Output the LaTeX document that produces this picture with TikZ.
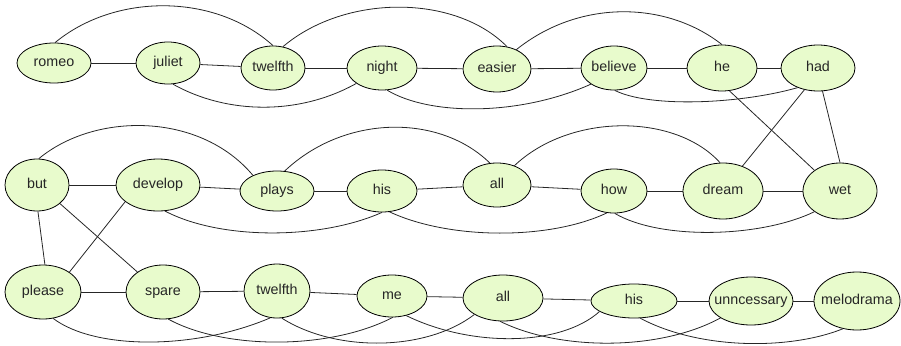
\documentclass[tikz,border=0pt]{standalone}
\usepackage{fontspec}
\setmainfont{Liberation Sans}
\usetikzlibrary{shapes.geometric}
\definecolor{nodefill}{HTML}{E8FBCC}
\tikzset{
  wnode/.style={ellipse, draw=black, line width=0.8pt, fill=nodefill, inner sep=0pt},
  wtext/.style={inner sep=0pt, font=\fontsize{14.3}{17}\selectfont, text=black!85,
    text height=10pt, text depth=3pt},
  link/.style={draw=black!85, line width=0.8pt},
}
\newcommand{\wn}[6]{\node[wnode, minimum width=#4pt, minimum height=#5pt] (#1) at (#2,#3) {};
  \node[wtext] (#1-t) at (#1.center) {#6};}
\begin{document}
\begin{tikzpicture}[x=1pt,y=-1pt]
\useasboundingbox (0,0) rectangle (901,345);
% row 1
\wn{romeo}{54}{63}{74}{40}{romeo}
\wn{juliet}{168}{63}{64}{42}{juliet}
\wn{twelfthA}{273}{68}{64}{44}{twelfth}
\wn{night}{382}{68}{70}{44}{night}
\wn{easier}{497}{69}{68}{46}{easier}
\wn{believe}{614}{68}{66}{44}{believe}
\wn{he}{722}{68}{70}{46}{he}
\wn{had}{818}{68}{74}{46}{had}
% row 2
\wn{but}{37}{185}{64}{52}{but}
\wn{develop}{158}{185}{84}{52}{develop}
\wn{plays}{277}{191}{74}{40}{plays}
\wn{hisA}{382}{191}{70}{42}{his}
\wn{allA}{497}{185}{68}{44}{all}
\wn{how}{614}{191}{66}{44}{how}
\wn{dream}{723}{191}{80}{56}{dream}
\wn{wet}{840}{191}{74}{56}{wet}
% row 3
\wn{please}{43}{292}{76}{54}{please}
\wn{spare}{163}{292}{74}{54}{spare}
\wn{twelfthB}{277}{291}{66}{54}{twelfth}
\wn{me}{392}{296}{70}{42}{me}
\wn{allB}{503}{298}{80}{46}{all}
\wn{hisB}{634}{301}{86}{34}{his}
\wn{unnc}{751}{301}{84}{48}{unncessary}
\wn{melo}{857}{301}{86}{58}{melodrama}

% row 1 straight
\draw[link] (romeo) -- (juliet);
\draw[link] (juliet) -- (twelfthA);
\draw[link] (twelfthA) -- (night);
\draw[link] (night) -- (easier);
\draw[link] (easier) -- (believe);
\draw[link] (believe) -- (he);
\draw[link] (he) -- (had);
% row 1 curves
\draw[link] (romeo.87) .. controls (115,-7) and (215,-7) .. (twelfthA.90);
\draw[link] (twelfthA.65) .. controls (345,-6) and (455,-6) .. (easier.66);
\draw[link] (easier.45) .. controls (578,0) and (665,0) .. (he.90);
\draw[link] (juliet.-77) .. controls (228,115) and (300,115) .. (night.211);
\draw[link] (night.-77) .. controls (430,116) and (520,116) .. (believe.-145);
\draw[link] (believe.-88) .. controls (650,108) and (740,104) .. (had.-136);
% row 1 - row 2
\draw[link] (he.-72) -- (wet.141);
\draw[link] (had.-122) -- (dream.52);
\draw[link] (had.-79) -- (wet.90);
% row 2 straight
\draw[link] (but) -- (develop);
\draw[link] (develop) -- (plays);
\draw[link] (plays) -- (hisA);
\draw[link] (hisA) -- (allA);
\draw[link] (allA) -- (how);
\draw[link] (how) -- (dream);
\draw[link] (dream) -- (wet);
% row 2 curves
\draw[link] (but.86) .. controls (95,112) and (200,112) .. (plays.147);
\draw[link] (plays.69) .. controls (345,114) and (440,114) .. (allA.108);
\draw[link] (allA.48) .. controls (570,113) and (675,113) .. (dream.96);
\draw[link] (develop.-75) .. controls (220,240) and (320,240) .. (hisA.-90);
\draw[link] (hisA.-70) .. controls (450,240) and (550,240) .. (how.-108);
\draw[link] (how.-88) .. controls (660,240) and (760,238) .. (wet.-141);
% row 2 - row 3
\draw[link] (but.-88) -- (please.86);
\draw[link] (but.-39) -- (spare.142);
\draw[link] (develop.-153) -- (please.37);
% row 3 straight
\draw[link] (please) -- (spare);
\draw[link] (spare) -- (twelfthB);
\draw[link] (twelfthB) -- (me);
\draw[link] (me) -- (allB);
\draw[link] (allB) -- (hisB);
\draw[link] (hisB) -- (unnc);
\draw[link] (unnc) -- (melo);
% row 3 curves
\draw[link] (please.-69) .. controls (95,350) and (195,350) .. (twelfthB.-104);
\draw[link] (spare.-79) .. controls (225,350) and (330,350) .. (me.-88);
\draw[link] (twelfthB.-80) .. controls (335,352) and (425,352) .. (allB.-150);
\draw[link] (me.-54) .. controls (470,347) and (560,347) .. (hisB.-163);
\draw[link] (allB.-97) .. controls (560,351) and (660,351) .. (unnc.-151);
\draw[link] (hisB.-70) .. controls (700,350) and (790,350) .. (melo.-117);
\end{tikzpicture}
\end{document}
